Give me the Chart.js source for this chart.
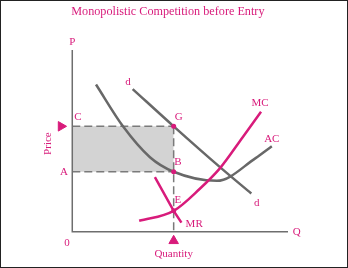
<!DOCTYPE html>
<html>
  <head>
    <style>
      * {
        margin: 0;
        padding: 0;
      }
      body {
        overflow: hidden;
        background: #fff;
      }
      .frame {
        width: 348px;
        height: 268px;
        box-sizing: border-box;
        border: 1px solid #222;
        position: relative;
      }
      canvas {
        position: absolute;
        left: -1px;
        top: -1px;
      }
    </style>
  </head>
  <body>
    <div class="frame">
      <canvas id="myChart" width="348" height="268"></canvas>
    </div>
    <script src="https://cdn.jsdelivr.net/npm/chart.js/dist/chart.umd.min.js"></script>
    <script>
      // values (quantity 0-100, price 0-100)
      const demandQ = [28, 47, 69, 83];
      const demandP = [78.5, 58, 35, 21];
      const acQ = [11, 23.5, 36, 47, 67, 85, 92.5];
      const acP = [81, 58, 41, 33, 28, 40.5, 47];
      const mcQ = [31, 47, 59, 68.5, 79, 87.5];
      const mcP = [6, 11.5, 23.5, 35, 52, 66];
      const mrQ = [38.3, 47, 50.6];
      const mrP = [30, 11.5, 5];
      const qStar = 47;
      const priceC = 58;
      const costA = 33;
      const priceE = 11.5;

      const pink = "#d81b7b";
      const curveGrey = "#686868";
      const dashGrey = "#7a7a7a";
      const serif = "'Liberation Serif', 'DejaVu Serif', serif";

      const pts = (xs, ys) => xs.map((x, i) => ({ x: x, y: ys[i] }));

      // text placed in data coordinates
      const notes = [
        { text: "Monopolistic Competition before Entry", x: 44.3, y: 120.9, size: 12.2 },
        { text: "d", x: 25.8, y: 82.4 },
        { text: "d", x: 85.5, y: 15.8 },
        { text: "MC", x: 87, y: 71 },
        { text: "AC", x: 92.5, y: 51 },
        { text: "MR", x: 56.5, y: 4 },
        { text: "G", x: 49.4, y: 63 },
        { text: "B", x: 49, y: 38.4 },
        { text: "E", x: 49, y: 17.5 },
        { text: "C", x: 2.6, y: 63 },
        { text: "A", x: -3.8, y: 33 },
        { text: "P", x: 0, y: 104.4 },
        { text: "Q", x: 104, y: -0.2 },
        { text: "0", x: -2.5, y: -6.2 },
        { text: "Quantity", x: 47, y: -12.3 },
        { text: "Price", x: -11, y: 48.5, rotate: true },
      ];

      const notesPlugin = {
        id: "notes",
        afterDatasetsDraw(chart) {
          const ctx = chart.ctx;
          const xs = chart.scales.x;
          const ys = chart.scales.y;
          ctx.save();
          ctx.fillStyle = pink;
          ctx.textAlign = "center";
          ctx.textBaseline = "middle";
          notes.forEach((n) => {
            const px = xs.getPixelForValue(n.x);
            const py = ys.getPixelForValue(n.y);
            ctx.font = (n.size || 11) + "px " + serif;
            if (n.rotate) {
              ctx.save();
              ctx.translate(px, py);
              ctx.rotate(-Math.PI / 2);
              ctx.fillText(n.text, 0, 0);
              ctx.restore();
            } else {
              ctx.fillText(n.text, px, py);
            }
          });
          ctx.restore();
        },
      };

      const line = (data, color, width, dash, order, smooth) => ({
        data: data,
        showLine: true,
        borderColor: color,
        borderWidth: width,
        borderDash: dash || [],
        pointRadius: 0,
        tension: smooth ? 0.4 : 0,
        cubicInterpolationMode: smooth ? "monotone" : "default",
        fill: false,
        order: order,
        clip: false,
      });

      const data = {
        datasets: [
          // shaded profit rectangle
          {
            data: [
              { x: 0, y: priceC },
              { x: qStar, y: priceC },
            ],
            showLine: true,
            borderColor: dashGrey,
            borderWidth: 1.5,
            borderDash: [8, 4],
            backgroundColor: "#d3d3d3",
            fill: { value: costA },
            pointRadius: 0,
            order: 10,
          },
          line(
            [
              { x: 0, y: costA },
              { x: qStar, y: costA },
            ],
            dashGrey, 1.5, [8, 4], 9
          ),
          line(
            [
              { x: qStar, y: priceC },
              { x: qStar, y: 0 },
            ],
            dashGrey, 1.5, [8, 4], 9
          ),
          // axes
          line(
            [
              { x: 0, y: 100 },
              { x: 0, y: 0 },
              { x: 100, y: 0 },
            ],
            "#6e6e6e", 1.5, null, 8
          ),
          line(pts(acQ, acP), curveGrey, 2.5, null, 3, true),
          line(pts(demandQ, demandP), curveGrey, 2.5, null, 3, true),
          line(pts(mcQ, mcP), pink, 2.5, null, 2, true),
          line(pts(mrQ, mrP), pink, 2.5, null, 2),
          // marked points
          {
            data: [
              { x: qStar, y: priceC },
              { x: qStar, y: costA },
              { x: qStar, y: priceE },
            ],
            pointRadius: 2.5,
            pointBackgroundColor: pink,
            pointBorderWidth: 0,
            order: 0,
          },
          // arrow markers
          {
            data: [{ x: -5.2, y: priceC }],
            pointStyle: "triangle",
            rotation: 90,
            pointRadius: 5.5,
            pointBackgroundColor: pink,
            pointBorderColor: pink,
            order: 0,
          },
          {
            data: [{ x: qStar, y: -5 }],
            pointStyle: "triangle",
            pointRadius: 5.5,
            pointBackgroundColor: pink,
            pointBorderColor: pink,
            order: 0,
          },
        ],
      };

      const config = {
        type: "scatter",
        data,
        options: {
          responsive: false,
          animation: false,
          events: [],
          layout: {
            padding: { left: 50.7, right: 60, top: 50, bottom: 18.1 },
          },
          scales: {
            x: { type: "linear", min: -10, max: 100, display: false },
            y: { type: "linear", min: -10, max: 100, display: false },
          },
          plugins: {
            legend: { display: false },
            tooltip: { enabled: false },
          },
        },
        plugins: [notesPlugin],
      };

      const myChart = new Chart(document.getElementById("myChart"), config);
    </script>
  </body>
</html>
